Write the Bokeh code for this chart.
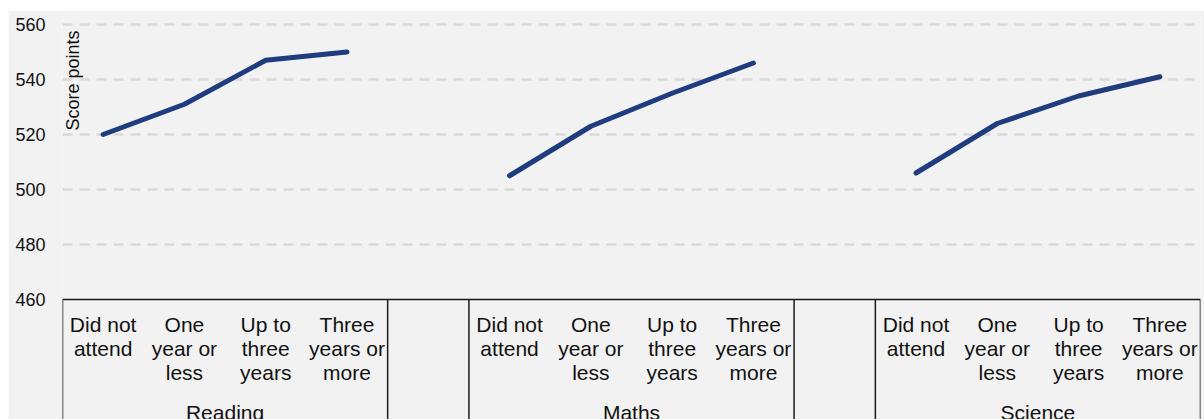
import math
from bokeh.plotting import figure
from bokeh.models import Range1d, FixedTicker, Label
from bokeh.core.properties import value
from bokeh.embed import file_html
from bokeh.resources import INLINE

# ---- data ----
groups = ["Reading", "Maths", "Science"]
subcats = ["Did not\nattend", "One\nyear or\nless", "Up to\nthree\nyears", "Three\nyears or\nmore"]
reading = [520, 531, 547, 550]
maths = [505, 523, 535, 546]
science = [506, 524, 534, 541]
series = [reading, maths, science]
y_ticks = [460, 480, 500, 520, 540, 560]
y_title = "Score points"

FONT = "Liberation Sans"
LINE_COLOR = "#1F3C7E"

n_sub = len(subcats)
slot = n_sub + 1  # one empty slot between groups
n_slots = len(groups) * slot - 1

y_min, y_max = min(y_ticks), max(y_ticks)
px_per_unit = 275 / (y_max - y_min)

p = figure(
    width=1196, height=409,
    x_range=Range1d(0, n_slots),
    y_range=Range1d(y_min - 120 / px_per_unit, y_max + 14 / px_per_unit),
    output_backend="svg", toolbar_location=None,
    x_axis_location=None,
    min_border_left=54, min_border_right=4, min_border_top=0, min_border_bottom=0,
)
p.margin = (10, 0, 0, 8)
p.border_fill_color = "#f2f2f2"
p.background_fill_color = "#f2f2f2"
p.outline_line_color = None

# y axis
ax = p.yaxis[0]
ax.ticker = FixedTicker(ticks=y_ticks)
ax.axis_line_color = None
ax.major_tick_line_color = None
ax.minor_tick_line_color = None
ax.major_tick_out = 0
ax.major_tick_in = 0
ax.major_label_standoff = 17
ax.major_label_text_font = FONT
ax.major_label_text_font_size = "18px"
ax.major_label_text_color = "#111111"

p.xgrid.visible = False
p.ygrid.ticker = FixedTicker(ticks=y_ticks[1:])
p.ygrid.grid_line_color = "#d9d9d9"
p.ygrid.grid_line_dash = "10 7"
p.ygrid.grid_line_width = 2.5

# lines
for g, vals in enumerate(series):
    xs = [g * slot + i + 0.5 for i in range(n_sub)]
    p.line(xs, vals, line_color=LINE_COLOR, line_width=5, line_cap="round", line_join="round")

# category box
p.segment(x0=[0], y0=[y_min], x1=[n_slots], y1=[y_min], line_color="#1a1a1a", line_width=1.5)
bounds = []
for g in range(len(groups)):
    bounds += [g * slot, g * slot + n_sub]
p.segment(x0=bounds, y0=[y_min] * len(bounds), x1=bounds, y1=[y_min - 100] * len(bounds),
          line_color="#1a1a1a", line_width=1.5)

# sub-category labels
sub_x, sub_t = [], []
for g in range(len(groups)):
    for i, s in enumerate(subcats):
        sub_x.append(g * slot + i + 0.5)
        sub_t.append(s)
p.text(x=sub_x, y=[y_min] * len(sub_x), text=sub_t, text_align="center", text_baseline="top",
       y_offset=13, text_font=value(FONT), text_font_size="21px", text_line_height=1.05,
       text_color="#111111")

# group labels
gx = [g * slot + n_sub / 2 for g in range(len(groups))]
p.text(x=gx, y=[y_min] * len(gx), text=groups, text_align="center", text_baseline="top",
       y_offset=101, text_font=value(FONT), text_font_size="21px", text_color="#111111")

# y title inside plot
p.add_layout(Label(x=0, y=y_max + 14 / px_per_unit, y_offset=-20, text=y_title, angle=math.pi / 2,
                   text_align="right", text_baseline="top", text_font=FONT,
                   text_font_size="18px", text_color="#111111"))

open("out.html", "w").write(file_html(p, INLINE))
